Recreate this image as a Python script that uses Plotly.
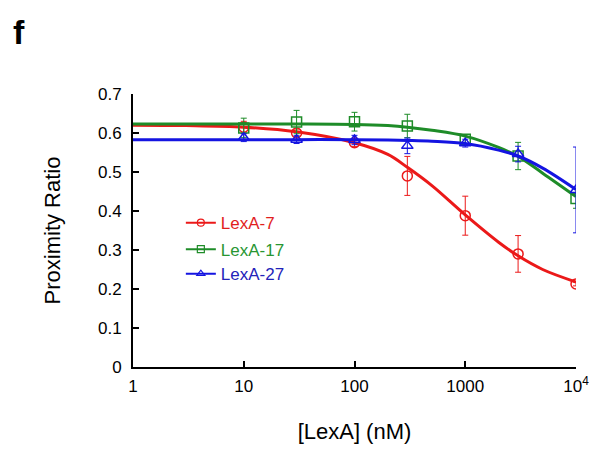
import plotly.graph_objects as go

# Measured data points
conc = [10, 30, 100, 300, 1000, 3000, 10000]
lexa7 = [0.615, 0.600, 0.575, 0.490, 0.388, 0.290, 0.213]
lexa7_err = [0.015, 0.010, 0.010, 0.050, 0.050, 0.047, 0.005]
lexa17 = [0.613, 0.628, 0.629, 0.618, 0.584, 0.541, 0.432]
lexa17_err = [0.025, 0.030, 0.024, 0.030, 0.012, 0.035, 0.025]
lexa27 = [0.588, 0.583, 0.582, 0.567, 0.574, 0.546, 0.454]
lexa27_err = [0.010, 0.010, 0.012, 0.020, 0.010, 0.020, 0.110]

# Fitted curves
fit_x = [1, 3, 10, 30, 100, 200, 300, 500, 1000, 2000, 3000, 5000, 10000]
fit7 = [0.620, 0.619, 0.615, 0.603, 0.575, 0.545, 0.512, 0.465, 0.390, 0.320, 0.285, 0.250, 0.218]
fit17 = [0.623, 0.623, 0.623, 0.623, 0.622, 0.619, 0.615, 0.607, 0.592, 0.563, 0.540, 0.497, 0.437]
fit27 = [0.583, 0.583, 0.583, 0.583, 0.583, 0.582, 0.581, 0.579, 0.573, 0.556, 0.541, 0.510, 0.455]

names = ["LexA-7", "LexA-17", "LexA-27"]
colors = ["rgb(235,25,25)", "rgb(30,140,40)", "rgb(20,20,225)"]
text_colors = ["rgb(225,30,30)", "rgb(40,150,50)", "rgb(35,35,185)"]
symbols = ["circle-open", "square-open", "triangle-up-open"]

x_ticks = [1, 10, 100, 1000, 10000]
x_ticktext = ["1", "10", "100", "1000", "10<sup>4</sup>"]
y_ticks = [0, 0.1, 0.2, 0.3, 0.4, 0.5, 0.6, 0.7]
y_ticktext = ["0", "0.1", "0.2", "0.3", "0.4", "0.5", "0.6", "0.7"]

FONT = "Liberation Sans, Arial"

fig = go.Figure()
series = [(lexa7, lexa7_err, fit7), (lexa17, lexa17_err, fit17), (lexa27, lexa27_err, fit27)]
legends = ["legend", "legend2", "legend3"]
for i, (vals, errs, fit) in enumerate(series):
    fig.add_trace(go.Scatter(
        x=fit_x, y=fit, mode="lines", line=dict(color=colors[i], width=3, shape="spline"),
        showlegend=False, hoverinfo="skip"))
    fig.add_trace(go.Scatter(
        x=conc, y=vals, mode="markers",
        marker=dict(symbol=symbols[i], size=10, color=colors[i], line=dict(width=1.5, color=colors[i])),
        error_y=dict(type="data", array=errs, visible=True, color=colors[i], thickness=1, width=3),
        showlegend=False))
    fig.add_trace(go.Scatter(
        x=[None], y=[None], mode="lines+markers", name=names[i],
        line=dict(color=colors[i], width=2),
        marker=dict(symbol=symbols[i], size=7, color=colors[i], line=dict(width=1.2, color=colors[i])),
        legend=legends[i]))

leg_common = dict(bgcolor="rgba(0,0,0,0)", borderwidth=0, xanchor="left", yanchor="middle",
                  itemwidth=30, tracegroupgap=0)
fig.update_layout(
    legend=dict(x=0.108, y=0.527, font=dict(family=FONT, size=17, color=text_colors[0]), **leg_common),
    legend2=dict(x=0.108, y=0.430, font=dict(family=FONT, size=17, color=text_colors[1]), **leg_common),
    legend3=dict(x=0.108, y=0.340, font=dict(family=FONT, size=17, color=text_colors[2]), **leg_common),
)

fig.update_xaxes(
    type="log", range=[0, 4], tickvals=x_ticks, ticktext=x_ticktext,
    showline=True, linecolor="black", linewidth=2, ticks="inside", ticklen=6, tickwidth=2,
    tickcolor="black", showgrid=False, zeroline=False, ticklabelstandoff=3,
    tickfont=dict(family=FONT, size=17, color="black"),
    title=dict(text="[LexA] (nM)", font=dict(family=FONT, size=22, color="black"), standoff=28),
)
fig.update_yaxes(
    range=[0, 0.7], tickvals=y_ticks, ticktext=y_ticktext,
    showline=True, linecolor="black", linewidth=2, ticks="inside", ticklen=6, tickwidth=2,
    tickcolor="black", showgrid=False, zeroline=False, ticklabelstandoff=6,
    tickfont=dict(family=FONT, size=17, color="black"),
    title=dict(text="Proximity Ratio", font=dict(family=FONT, size=22, color="black"), standoff=31),
)
fig.add_annotation(text="<b>f</b>", xref="paper", yref="paper", x=-0.275, y=1.305,
                   xanchor="left", yanchor="top", showarrow=False,
                   font=dict(family=FONT, size=34, color="black"))
fig.update_layout(
    width=602, height=454, margin=dict(l=125, r=34, t=86, b=95),
    paper_bgcolor="white", plot_bgcolor="white",
)
fig.write_html("out.html")
